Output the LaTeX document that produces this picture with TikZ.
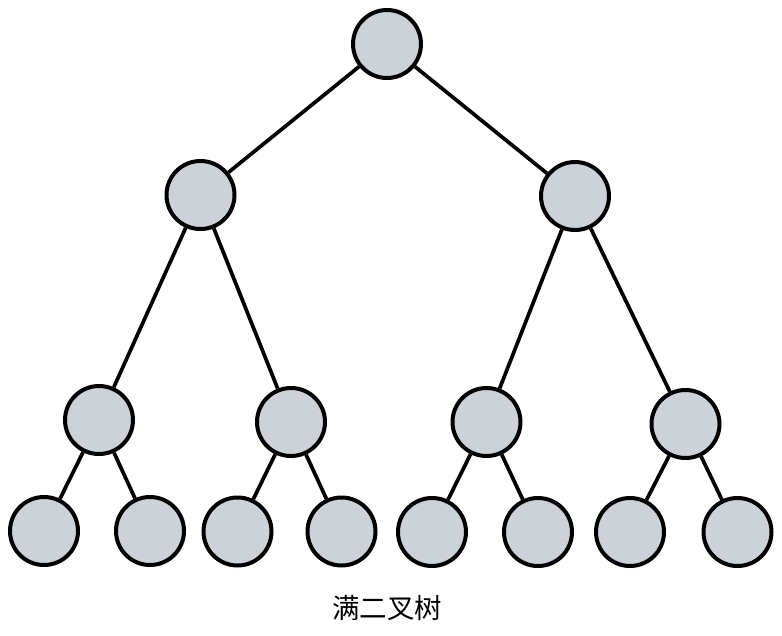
\documentclass[tikz,border=0pt]{standalone}
\usepackage{fontspec}
\newfontfamily\cjk{Noto Sans CJK SC}
\definecolor{nodefill}{HTML}{CDD2D9}
\tikzset{
  tnode/.style={circle, draw=black, line width=4pt, fill=nodefill, minimum size=68pt, inner sep=0pt},
  edge/.style={draw=black, line width=3.7pt}
}
\begin{document}
\begin{tikzpicture}[x=1pt, y=-1pt]
\useasboundingbox (0,0) rectangle (782,635);
\node[tnode] (r) at (387,44) {};
\node[tnode] (a) at (200.5,195) {};
\node[tnode] (b) at (575,196) {};
\node[tnode] (a1) at (99,420) {};
\node[tnode] (a2) at (291,422) {};
\node[tnode] (b1) at (486.5,422) {};
\node[tnode] (b2) at (685.5,424) {};
\node[tnode] (l1) at (44,531) {};
\node[tnode] (l2) at (150,531) {};
\node[tnode] (l3) at (237.5,531.5) {};
\node[tnode] (l4) at (341.5,531.5) {};
\node[tnode] (l5) at (432,532) {};
\node[tnode] (l6) at (538,532) {};
\node[tnode] (l7) at (630,532) {};
\node[tnode] (l8) at (737.5,532) {};
\path[edge] (r) -- (a) (r) -- (b)
  (a) -- (a1) (a) -- (a2) (b) -- (b1) (b) -- (b2)
  (a1) -- (l1) (a1) -- (l2) (a2) -- (l3) (a2) -- (l4)
  (b1) -- (l5) (b1) -- (l6) (b2) -- (l7) (b2) -- (l8);
\node[font=\cjk\fontsize{27.5}{30}\selectfont, inner sep=0pt] (cap) at (387,608) {满二叉树};
\end{tikzpicture}
\end{document}
